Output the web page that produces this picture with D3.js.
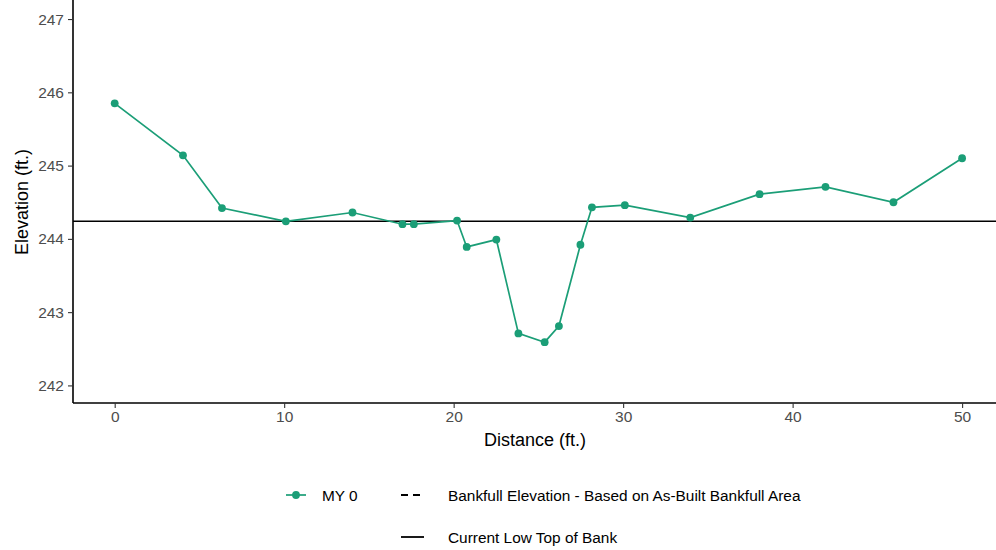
<!DOCTYPE html>
<html>
<head>
<meta charset="utf-8">
<script src="https://cdn.jsdelivr.net/npm/d3@7"></script>
<style>
  html, body { margin: 0; padding: 0; background: #fff; }
  svg { display: block; font-family: "Liberation Sans", Arial, sans-serif; }
</style>
</head>
<body>
<svg id="chart" width="996" height="550"></svg>
<script>
// Cross-section survey: station distance (ft.) and surveyed elevation (ft.)
const distance = [0, 4.03, 6.33, 10.1, 14.03, 16.98, 17.65, 20.2, 20.77, 22.52,
                  23.82, 25.37, 26.21, 27.48, 28.16, 30.1, 33.96, 38.05, 41.94, 45.95, 50];
const elevation = [245.85, 245.14, 244.42, 244.24, 244.36, 244.2, 244.2, 244.25, 243.89, 243.99,
                   242.71, 242.59, 242.81, 243.92, 244.43, 244.46, 244.29, 244.61, 244.71, 244.5, 245.1];
const lowTopOfBank = 244.24;
const xTicks = [0, 10, 20, 30, 40, 50];
const yTicks = [242, 243, 244, 245, 246, 247];
const legendLabels = ["MY 0", "Bankfull Elevation - Based on As-Built Bankfull Area", "Current Low Top of Bank"];

const green = "#1b9e77";
const svg = d3.select("#chart");

const panel = { left: 73, right: 996, top: 0, bottom: 403 };
const x = d3.scaleLinear().domain([-2.46, 52.0]).range([panel.left, panel.right]);
const y = d3.scaleLinear().domain([241.76, 247.26]).range([panel.bottom, panel.top]);

const pts = distance.map((d, i) => ({ d, e: elevation[i] }));

const plot = svg.append("g");

// low top of bank reference line
plot.append("line")
  .attr("x1", panel.left).attr("x2", panel.right)
  .attr("y1", y(lowTopOfBank)).attr("y2", y(lowTopOfBank))
  .attr("stroke", "#000").attr("stroke-width", 1.6);

// survey profile
plot.append("path")
  .datum(pts)
  .attr("fill", "none")
  .attr("stroke", green)
  .attr("stroke-width", 1.7)
  .attr("d", d3.line().x(p => x(p.d)).y(p => y(p.e)));

plot.selectAll("circle.pt")
  .data(pts).enter().append("circle")
  .attr("class", "pt")
  .attr("cx", p => x(p.d)).attr("cy", p => y(p.e))
  .attr("r", 3.9).attr("fill", green);

// axes
const xAxis = svg.append("g")
  .attr("transform", `translate(0,${panel.bottom})`)
  .call(d3.axisBottom(x).tickValues(xTicks).tickSize(5).tickPadding(3).tickFormat(d3.format("d")));
const yAxis = svg.append("g")
  .attr("transform", `translate(${panel.left},0)`)
  .call(d3.axisLeft(y).tickValues(yTicks).tickSize(5).tickPadding(4).tickFormat(d3.format("d")));

[xAxis, yAxis].forEach(g => {
  g.attr("font-size", null).attr("font-family", null);
  g.select(".domain").attr("stroke", "#000").attr("stroke-width", 1.6);
  g.selectAll(".tick line").attr("stroke", "#333").attr("stroke-width", 1.1);
  g.selectAll(".tick text")
    .attr("fill", "#4d4d4d")
    .style("font-size", "15.5px")
    .style("font-family", "'Liberation Sans', Arial, sans-serif");
});
// full-width axis lines
xAxis.select(".domain").attr("d", `M${panel.left},0H${panel.right}`);
yAxis.select(".domain").attr("d", `M0,${panel.top}V${panel.bottom}`);

// axis titles
svg.append("text")
  .attr("x", 535).attr("y", 446)
  .attr("text-anchor", "middle")
  .style("font-size", "18px")
  .text("Distance (ft.)");
svg.append("text")
  .attr("transform", "translate(28,202) rotate(-90)")
  .attr("text-anchor", "middle")
  .style("font-size", "18px")
  .text("Elevation (ft.)");

// legend
const leg = svg.append("g").style("font-size", "15.4px");
// MY 0 key
leg.append("line").attr("x1", 286).attr("x2", 306).attr("y1", 495).attr("y2", 495)
  .attr("stroke", green).attr("stroke-width", 1.7);
leg.append("circle").attr("cx", 296).attr("cy", 495).attr("r", 3.9).attr("fill", green);
leg.append("text").attr("x", 322).attr("y", 500.5).text(legendLabels[0]);
// bankfull key (dashed)
leg.append("line").attr("x1", 401).attr("x2", 424).attr("y1", 495).attr("y2", 495)
  .attr("stroke", "#000").attr("stroke-width", 1.8).attr("stroke-dasharray", "7,5");
leg.append("text").attr("x", 448).attr("y", 500.5).text(legendLabels[1]);
// low top of bank key
leg.append("line").attr("x1", 401).attr("x2", 424).attr("y1", 537).attr("y2", 537)
  .attr("stroke", "#000").attr("stroke-width", 1.8);
leg.append("text").attr("x", 448).attr("y", 542.5).text(legendLabels[2]);
</script>
</body>
</html>
